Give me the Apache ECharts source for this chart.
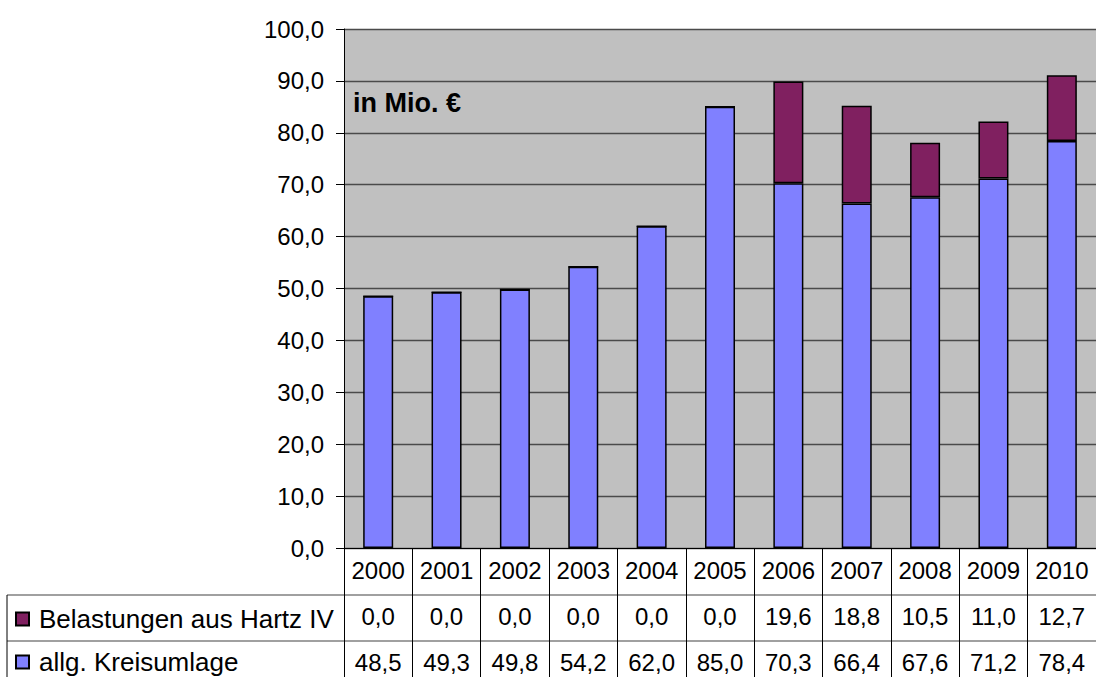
<!DOCTYPE html>
<html>
<head>
<meta charset="utf-8">
<script src="https://cdn.jsdelivr.net/npm/echarts@6/dist/echarts.min.js"></script>
<style>
html,body{margin:0;padding:0;background:#fff;}
#chart{width:1096px;height:677px;}
</style>
</head>
<body>
<div id="chart"></div>
<script>
const categories = ['2000','2001','2002','2003','2004','2005','2006','2007','2008','2009','2010'];
const hartzName = 'Belastungen aus Hartz IV';
const kreisName = 'allg. Kreisumlage';
const hartz = [0.0, 0.0, 0.0, 0.0, 0.0, 0.0, 19.6, 18.8, 10.5, 11.0, 12.7];
const kreis = [48.5, 49.3, 49.8, 54.2, 62.0, 85.0, 70.3, 66.4, 67.6, 71.2, 78.4];
const yMin = 0, yMax = 100, yStep = 10;
const unitLabel = 'in Mio. €';

const FONT = '"Liberation Sans", Arial, sans-serif';
const fmt = v => v.toFixed(1).replace('.', ',');

const GL = 344, GT = 29, GW = 758, GH = 519;
const ROW = 46;
const tableTop = GT + GH;

const chart = echarts.init(document.getElementById('chart'), null, {renderer: 'svg'});

function rowAxis(offset, values) {
  return {
    type: 'category', data: categories, position: 'bottom', offset: offset,
    axisLine: {show: false},
    axisTick: {show: false},
    axisLabel: {
      interval: 0, margin: 10, fontSize: 24, color: '#000', fontFamily: FONT,
      formatter: (v, i) => fmt(values[i])
    },
    splitLine: {show: false}
  };
}

function legendRow(name, top) {
  return {
    data: [name], left: 10, top: top, orient: 'vertical',
    icon: 'rect', itemWidth: 13, itemHeight: 13, itemGap: 0, selectedMode: false,
    textStyle: {fontSize: 26, color: '#000', fontFamily: FONT, padding: [0, 0, 0, 5]}
  };
}

const option = {
  animation: false,
  textStyle: {fontFamily: FONT},
  title: {
    text: unitLabel, left: 353, top: 89, padding: 0,
    textStyle: {fontSize: 27, fontWeight: 'bold', color: '#000', fontFamily: FONT}
  },
  legend: [
    legendRow(hartzName, tableTop + ROW + 7),
    legendRow(kreisName, tableTop + 2 * ROW + 4)
  ],
  grid: {
    left: GL, top: GT, width: GW, height: GH,
    show: true, backgroundColor: '#c0c0c0', borderWidth: 0
  },
  xAxis: [
    {
      type: 'category', data: categories, position: 'bottom',
      axisLine: {show: true, lineStyle: {color: '#000', width: 1}},
      axisTick: {show: true, interval: 0, length: 140, lineStyle: {color: '#000', width: 1}},
      axisLabel: {interval: 0, margin: 10, fontSize: 24, color: '#000', fontFamily: FONT},
      splitLine: {show: false}
    },
    rowAxis(ROW, hartz),
    rowAxis(2 * ROW, kreis)
  ],
  yAxis: {
    type: 'value', min: yMin, max: yMax, interval: yStep,
    axisLine: {show: true, lineStyle: {color: '#000', width: 1}},
    axisTick: {show: true, length: 8, lineStyle: {color: '#000'}},
    axisLabel: {margin: 20, fontSize: 24, color: '#000', fontFamily: FONT, formatter: v => fmt(v)},
    splitLine: {show: true, lineStyle: {color: '#4a4a4a', width: 1.4}}
  },
  series: [
    {
      name: kreisName, type: 'bar', stack: 'total', data: kreis, barWidth: 30,
      itemStyle: {color: '#8080ff', borderColor: '#000', borderWidth: 1.5}
    },
    {
      name: hartzName, type: 'bar', stack: 'total', data: hartz, barWidth: 30,
      itemStyle: {color: '#802060', borderColor: '#000', borderWidth: 1.5}
    }
  ],
  graphic: [
    {type: 'line', shape: {x1: 7, y1: tableTop + ROW + 1, x2: 1096, y2: tableTop + ROW + 1}, style: {stroke: '#808080', lineWidth: 1.5}, silent: true},
    {type: 'line', shape: {x1: 7, y1: tableTop + 2 * ROW + 1, x2: 1096, y2: tableTop + 2 * ROW + 1}, style: {stroke: '#808080', lineWidth: 1.5}, silent: true},
    {type: 'line', shape: {x1: 7, y1: tableTop + ROW + 1, x2: 7, y2: 690}, style: {stroke: '#000', lineWidth: 1}, silent: true}
  ]
};
chart.setOption(option);
</script>
</body>
</html>
